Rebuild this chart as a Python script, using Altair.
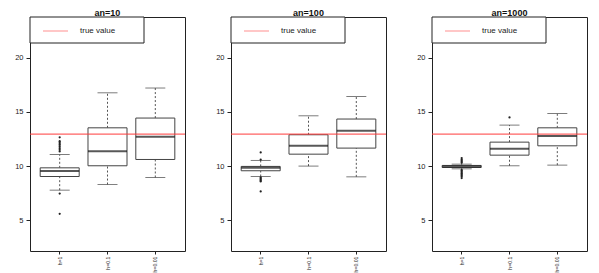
import altair as alt
import pandas as pd

panels = ["an=10", "an=100", "an=1000"]
methods = ["h=1", "h=0.1", "h=0.01"]
true_value = 12.95

lower_whisker = [[7.78, 8.30, 8.95], [9.04, 10.00, 9.01], [9.75, 10.03, 10.09]]
q1 = [[9.04, 10.03, 10.61], [9.57, 11.10, 11.66], [9.87, 11.01, 11.87]]
median = [[9.54, 11.38, 12.70], [9.84, 11.87, 13.26], [9.97, 11.60, 12.77]]
q3 = [[9.84, 13.53, 14.43], [9.97, 12.89, 14.34], [10.06, 12.21, 13.53]]
upper_whisker = [[11.07, 16.76, 17.20], [10.52, 14.64, 16.42], [10.18, 13.78, 14.85]]
outliers = [
    [[12.65, 12.30, 12.20, 12.05, 11.95, 11.80, 11.65, 11.50, 11.35, 7.47, 5.60], [], []],
    [[11.26, 10.60, 8.95, 8.85, 8.75, 8.65, 8.58, 7.66], [], []],
    [[10.74, 10.60, 10.50, 10.40, 10.30, 9.65, 9.55, 9.45, 9.35, 9.25, 9.15, 9.05, 8.90], [14.49], []],
]

FONT = "Liberation Sans"
Y_DOMAIN = [2.17, 23.75]

box_rows, out_rows = [], []
for p, panel in enumerate(panels):
    for m, method in enumerate(methods):
        box_rows.append(dict(panel=panel, method=method,
                             lo=lower_whisker[p][m], q1=q1[p][m], med=median[p][m],
                             q3=q3[p][m], hi=upper_whisker[p][m]))
        for v in outliers[p][m]:
            out_rows.append(dict(panel=panel, method=method, v=v))
boxes = pd.DataFrame(box_rows)
outs = pd.DataFrame(out_rows)
truth = pd.DataFrame({"v": [true_value], "label": ["true value"]})

x_enc = alt.X("method:N", sort=methods,
              scale=alt.Scale(paddingInner=0.184, paddingOuter=0.213),
              axis=alt.Axis(title=None, labelAngle=270, labelFontSize=5.2, labelFont=FONT,
                            tickSize=3, labelPadding=2, domain=False, labelColor="#222",
                            tickColor="#222"))
y_scale = alt.Scale(domain=Y_DOMAIN, nice=False, zero=False)


def panel_chart(panel):
    b = boxes[boxes.panel == panel]
    o = outs[outs.panel == panel] if len(outs) else outs
    base = alt.Chart(b).encode(x=x_enc)
    yax = alt.Axis(title=None, values=[5, 10, 15, 20], tickSize=4, labelFontSize=7.5,
                   labelFont=FONT, grid=False, domain=False, labelPadding=3,
                   labelColor="#222", tickColor="#222")
    whisk_up = base.mark_rule(color="#555", strokeDash=[2, 2], strokeWidth=1).encode(
        y=alt.Y("q3:Q", scale=y_scale, axis=yax), y2="hi:Q")
    whisk_lo = base.mark_rule(color="#555", strokeDash=[2, 2], strokeWidth=1).encode(
        y=alt.Y("lo:Q", scale=y_scale), y2="q1:Q")
    cap_hi = base.mark_tick(color="#444", size=20, thickness=1).encode(y=alt.Y("hi:Q", scale=y_scale))
    cap_lo = base.mark_tick(color="#444", size=20, thickness=1).encode(y=alt.Y("lo:Q", scale=y_scale))
    box = base.mark_bar(fill="white", stroke="#444", strokeWidth=1).encode(
        y=alt.Y("q1:Q", scale=y_scale), y2="q3:Q")
    med = base.mark_tick(color="#111", size=39, thickness=2).encode(y=alt.Y("med:Q", scale=y_scale))
    pts = alt.Chart(o).mark_circle(color="#222", size=5, opacity=1).encode(
        x=alt.X("method:N", sort=methods), y=alt.Y("v:Q", scale=y_scale))
    ref = alt.Chart(truth).mark_rule(color="#ff3b3b", strokeWidth=1).encode(
        y=alt.Y("v:Q", scale=y_scale))
    leg_box = alt.Chart(truth).mark_rect(fill="white", stroke="#222", strokeWidth=1).encode(
        x=alt.value(0), x2=alt.value(114), y=alt.value(0), y2=alt.value(26))
    leg_line = alt.Chart(truth).mark_rule(color="#ff8f8f", strokeWidth=1).encode(
        x=alt.value(13), x2=alt.value(38), y=alt.value(14))
    leg_text = alt.Chart(truth).mark_text(align="left", baseline="middle", fontSize=8,
                                          font=FONT, color="#222").encode(
        x=alt.value(50), y=alt.value(14), text="label:N")
    layers = [whisk_up, whisk_lo, cap_hi, cap_lo, box, med]
    if len(o):
        layers.append(pts)
    layers += [ref, leg_box, leg_line, leg_text]
    return alt.layer(*layers).properties(
        width=155, height=234,
        title=alt.TitleParams(panel, fontSize=9, font=FONT, fontWeight="bold", offset=-1,
                              anchor="middle", color="#111"))


chart = alt.hconcat(*[panel_chart(p) for p in panels], spacing=29).resolve_scale(
    x="independent", y="independent").properties(
    padding={"left": 6, "top": 0, "right": 0, "bottom": 0},
    background="white").configure_view(stroke="#222", strokeWidth=1)

chart.save("out.html", embed_options={"renderer": "svg", "actions": False})
